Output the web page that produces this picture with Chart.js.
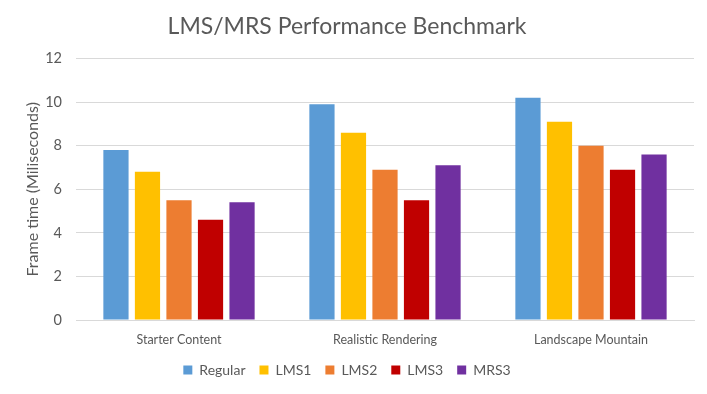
<!DOCTYPE html>
<html>
<head>
<meta charset="utf-8">
<script src="https://cdn.jsdelivr.net/npm/chart.js@4"></script>
<style>
  html, body { margin: 0; padding: 0; background: #fff; }
  #wrap { width: 707px; height: 394px; }
</style>
</head>
<body>
<div id="wrap"><canvas id="barChart" width="707" height="394"></canvas></div>
<script>
var categories = ['Starter Content', 'Realistic Rendering', 'Landscape Mountain'];
var seriesNames = ['Regular', 'LMS1', 'LMS2', 'LMS3', 'MRS3'];
var regular = [7.8, 9.9, 10.2];
var lms1 = [6.8, 8.6, 9.1];
var lms2 = [5.5, 6.9, 8.0];
var lms3 = [4.6, 5.5, 6.9];
var mrs3 = [5.4, 7.1, 7.6];
var yTicks = [0, 2, 4, 6, 8, 10, 12];

var colors = ['#5b9bd5', '#ffc000', '#ed7d31', '#c00000', '#7030a0'];
var values = [regular, lms1, lms2, lms3, mrs3];

Chart.defaults.font.family = 'Lato, "Open Sans", sans-serif';
Chart.defaults.color = '#595959';

var ctx = document.getElementById('barChart');

var myChart = new Chart(ctx, {
    type: 'bar',
    data: {
      labels: categories,
      datasets: seriesNames.map(function (name, i) {
        return {
          label: name,
          data: values[i],
          backgroundColor: colors[i],
          borderWidth: 0,
          categoryPercentage: 0.765,
          barPercentage: 0.8
        };
      })
    },
    options: {
      responsive: false,
      animation: false,
      layout: { padding: { left: 0, right: 13, top: 0, bottom: 7 } },
      plugins: {
        title: {
          display: true,
          text: 'LMS/MRS Performance Benchmark',
          font: { size: 23, weight: 'normal' },
          color: '#595959',
          padding: { top: 13, bottom: 18 }
        },
        legend: {
          position: 'bottom',
          labels: {
            boxWidth: 9,
            boxHeight: 9,
            padding: 14,
            font: { size: 14 },
            color: '#595959'
          }
        },
        tooltip: { enabled: false }
      },
      scales: {
        x: {
          grid: { display: false, drawTicks: false },
          border: { display: true, color: '#d9d9d9' },
          ticks: { font: { size: 12.5 }, padding: 12 },
          afterFit: function (scale) { scale.height = 29; }
        },
        y: {
          min: 0,
          max: 12,
          afterBuildTicks: function (scale) {
            scale.ticks = yTicks.map(function (v) { return { value: v }; });
          },
          afterFit: function (scale) { scale.width = 76; },
          grid: { color: '#d9d9d9', drawTicks: false },
          border: { display: false },
          ticks: { font: { size: 14.5 }, padding: 14 },
          title: {
            display: true,
            text: 'Frame time (Miliseconds)',
            font: { size: 16 },
            color: '#595959',
            padding: { top: 23, bottom: 4 }
          }
        }
      }
    }
  });
</script>
</body>
</html>
